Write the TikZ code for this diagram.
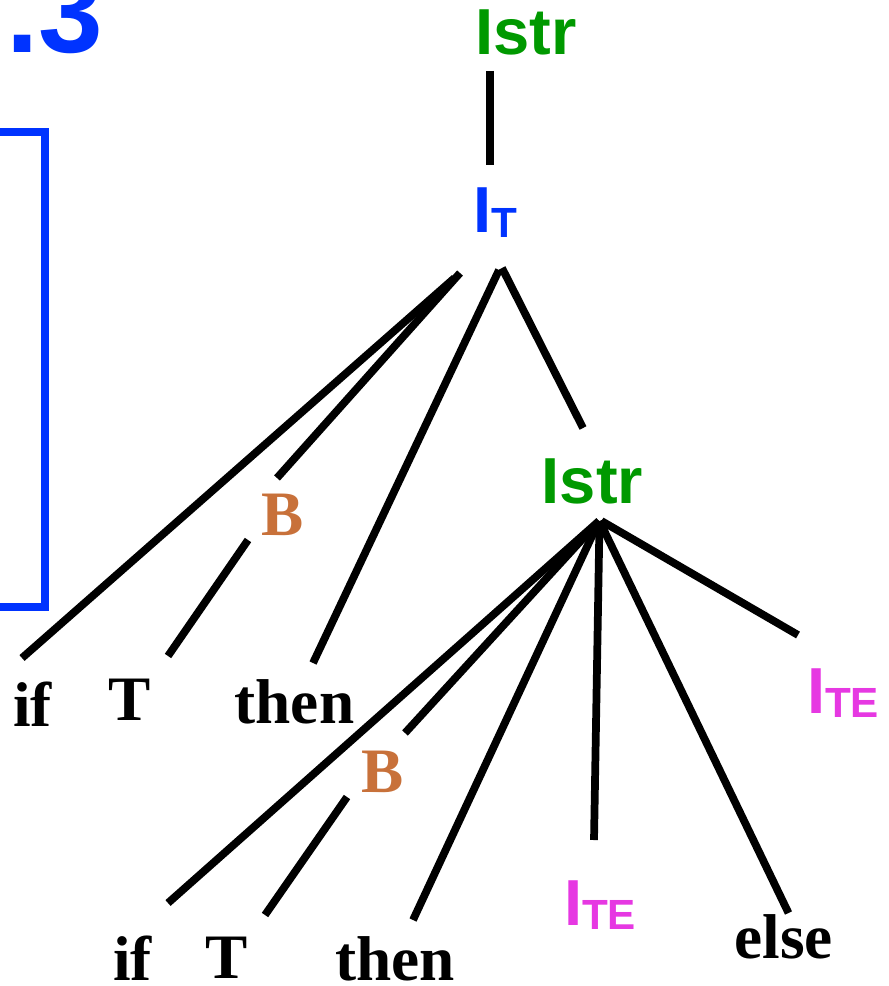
\documentclass[tikz,border=0pt]{standalone}
\usepackage{fontspec}
\setmainfont{Liberation Serif}
\setsansfont{Liberation Sans}
\usepackage{xcolor}
\usepackage{tikz}

\definecolor{istrgreen}{RGB}{0,153,0}
\definecolor{slideblue}{RGB}{0,51,255}
\definecolor{boolorange}{RGB}{200,113,58}
\definecolor{itemagenta}{RGB}{230,56,226}

\newcommand{\lowsub}[1]{\raisebox{-1.4pt}{\fontsize{12}{12}\selectfont #1}}

\begin{document}
\begin{tikzpicture}[
    x=0.01cm, y=-0.01cm,
    every node/.style={inner sep=0pt, anchor=base},
    nonterm/.style={font=\sffamily\bfseries\fontsize{18.5}{20}\selectfont},
    term/.style={font=\bfseries\fontsize{18}{20}\selectfont, text=black},
    edge/.style={line width=2.2pt}
]
\useasboundingbox (0,0) rectangle (888,986);

% slide number and frame
\node[font=\sffamily\bfseries\fontsize{33}{36}\selectfont, text=slideblue, anchor=base west] (secnum) at (6,53) {.3};
\draw[slideblue, line width=2.3pt] (-5,132) -- (45,132) -- (45,607) -- (-5,607);

% Nodes with fixed coordinates
\node[nonterm, text=istrgreen]  (root)  at (526,55)   {Istr};
\node[nonterm, text=slideblue]  (it)    at (495.5,233) {I\lowsub{T}};

\node[term, text=boolorange]    (bone)  at (282.5,535) {B};
\node[term]                     (ifone) at (32.5,726)  {if};
\node[term]                     (tone)  at (130,720)   {T};
\node[term]                     (thenone) at (294.5,723) {then};

\node[nonterm, text=istrgreen]  (istr)  at (592.5,503) {Istr};
\node[nonterm, text=itemagenta] (iteone) at (843,713)  {I\lowsub{TE}};

\node[term, text=boolorange]    (btwo)  at (383,792)   {B};
\node[term]                     (iftwo) at (132.5,980) {if};
\node[term]                     (ttwo)  at (227,978)   {T};
\node[term]                     (thentwo) at (395,980) {then};
\node[nonterm, text=itemagenta] (itetwo) at (600,925)  {I\lowsub{TE}};
\node[term]                     (else)  at (783.5,958) {else};

% Edges
\draw[edge] ([shift={(-36,16)}]root.base) -- ([shift={(-5.5,-68)}]it.base);

\draw[edge] ([shift={(-41,45)}]it.base) -- ([shift={(-10.5,-68)}]ifone.base);
\draw[edge] ([shift={(-35.5,40)}]it.base) -- ([shift={(-5.5,-57)}]bone.base);
\draw[edge] ([shift={(3.5,37)}]it.base) -- ([shift={(18.5,-60)}]thenone.base);
\draw[edge] ([shift={(6.5,35)}]it.base) -- ([shift={(-9.5,-75)}]istr.base);

\draw[edge] ([shift={(-34.5,5)}]bone.base) -- ([shift={(38,-64)}]tone.base);

\draw[edge] ([shift={(6.5,18)}]istr.base) -- ([shift={(35.5,-77)}]iftwo.base);
\draw[edge] ([shift={(6.5,18)}]istr.base) -- ([shift={(22,-59)}]btwo.base);
\draw[edge] ([shift={(6.5,18)}]istr.base) -- ([shift={(18,-60)}]thentwo.base);
\draw[edge] ([shift={(7,18)}]istr.base) -- ([shift={(-6,-85)}]itetwo.base);
\draw[edge] ([shift={(7,18)}]istr.base) -- ([shift={(5,-45)}]else.base);
\draw[edge] ([shift={(9,18)}]istr.base) -- ([shift={(-45,-78)}]iteone.base);

\draw[edge] ([shift={(-36,5)}]btwo.base) -- ([shift={(38,-63)}]ttwo.base);

\end{tikzpicture}
\end{document}
